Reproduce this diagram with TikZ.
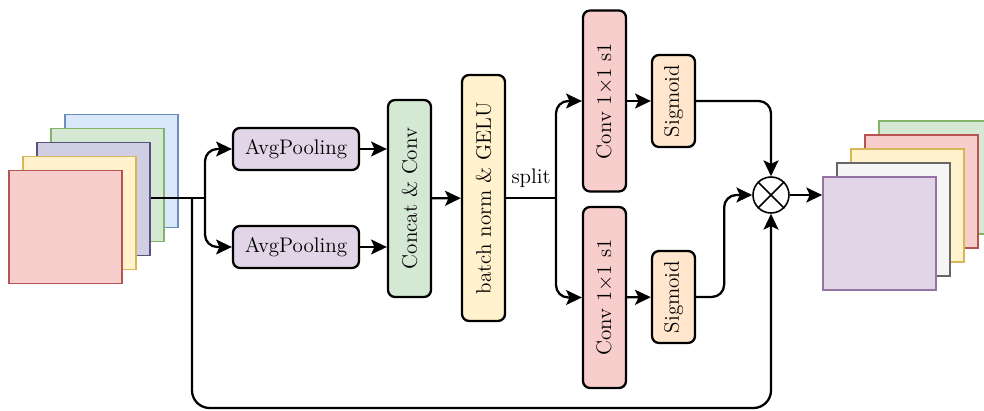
\documentclass[tikz,border=0pt]{standalone}
\usepackage{tikz}
\usetikzlibrary{positioning,calc,arrows.meta}
% draw.io like colours
\definecolor{redF}{HTML}{F8CECC}\definecolor{redD}{HTML}{B85450}
\definecolor{yelF}{HTML}{FFF2CC}\definecolor{yelD}{HTML}{D6B656}
\definecolor{blpF}{HTML}{D0CEE2}\definecolor{blpD}{HTML}{56517E}
\definecolor{grnF}{HTML}{D5E8D4}\definecolor{grnD}{HTML}{82B366}
\definecolor{bluF}{HTML}{DAE8FC}\definecolor{bluD}{HTML}{6C8EBF}
\definecolor{purF}{HTML}{E1D5E7}\definecolor{purD}{HTML}{9673A6}
\definecolor{gryF}{HTML}{F5F5F5}\definecolor{gryD}{HTML}{666666}
\definecolor{orgF}{HTML}{FFE6CC}
\tikzset{blk/.style={draw, line width=1.3pt, rounded corners=4, inner sep=0pt, align=center, font=\large}}
\tikzset{hblk/.style={blk, minimum width=2.52cm, minimum height=0.84cm}}
\tikzset{vblk/.style args={#1}{blk, rotate=90, minimum height=0.86cm, minimum width=#1}}
\tikzset{sq/.style args={#1/#2}{draw=#2, fill=#1, line width=1pt, minimum size=2.26cm, inner sep=0pt}}
\tikzset{arr/.style={draw, ->, line width=1.3pt, >={Stealth[length=9pt, width=8.5pt, inset=2pt]}}}
\tikzset{lnk/.style={draw, line width=1.3pt, rounded corners=7pt}}

\begin{document}
\begin{tikzpicture}[x=0.02cm, y=-0.02cm]
    \clip (0,0) rectangle (984,411);
    %
    % input feature maps
    \foreach \f/\d [count=\i from 0] in {bluF/bluD, grnF/grnD, blpF/blpD, yelF/yelD, redF/redD}
        \node[sq={\f/\d}] (i\i) at (121.5-14*\i, 171+14*\i) {};
    \coordinate (in) at (i2.east |- 0,198);
    \coordinate (sp1) at (205,198);
    \coordinate (res) at (192,198);
    %
    \node[hblk, fill=purF] (ap1) at (296,149) {AvgPooling};
    \node[hblk, fill=purF] (ap2) at (296,247) {AvgPooling};
    \node[vblk=3.94cm, fill=grnF] (cc) at (409.5,198.5) {Concat \& Conv};
    \node[vblk=4.92cm, fill=yelF] (bn) at (483.5,198) {batch norm \& GELU};
    \coordinate (sp2) at (556,198);
    \node[vblk=3.62cm, fill=redF] (cv1) at (604.5,101) {Conv $1{\times}1$ s1};
    \node[vblk=3.62cm, fill=redF] (cv2) at (604.5,297.5) {Conv $1{\times}1$ s1};
    \node[vblk=1.84cm, fill=orgF] (sg1) at (673.5,101) {Sigmoid};
    \node[vblk=1.84cm, fill=orgF] (sg2) at (673.5,297) {Sigmoid};
    \node[draw, circle, line width=0.9pt, minimum size=0.72cm, inner sep=0pt] (mul) at (771,195) {};
    \draw[line width=0.9pt] (mul.north east) -- (mul.south west) (mul.north west) -- (mul.south east);
    %
    % output feature maps
    \foreach \f/\d [count=\i from 0] in {grnF/grnD, redF/redD, yelF/yelD, gryF/gryD, purF/purD}
        \node[sq={\f/\d}] (o\i) at (935.5-14*\i, 177.5+14*\i) {};
    %
    % connectors
    \draw[lnk] (in) -- (sp1);
    \draw[lnk, arr] (sp1) |- (ap1);
    \draw[lnk, arr] (sp1) |- (ap2);
    \draw[lnk, arr, rounded corners=10pt] (res) |- (400,408) -| (mul);
    \draw[arr] (ap1) -- (ap1 -| cc.north);
    \draw[arr] (ap2) -- (ap2 -| cc.north);
    \draw[arr] (cc) -- (bn);
    \draw[lnk] (bn.south) -- node[above=2pt]{\large split} (sp2);
    \draw[lnk, arr] (sp2) |- (cv1);
    \draw[lnk, arr] (sp2) |- (cv2);
    \draw[arr] (cv1) -- (sg1);
    \draw[arr] (cv2) -- (sg2);
    \draw[lnk, arr] (sg1) -| (mul);
    \draw[lnk, arr] (sg2.south) -- ++(28,0) |- (mul);
    \draw[arr] (mul) -- (mul -| o4.west);
\end{tikzpicture}
\end{document}
